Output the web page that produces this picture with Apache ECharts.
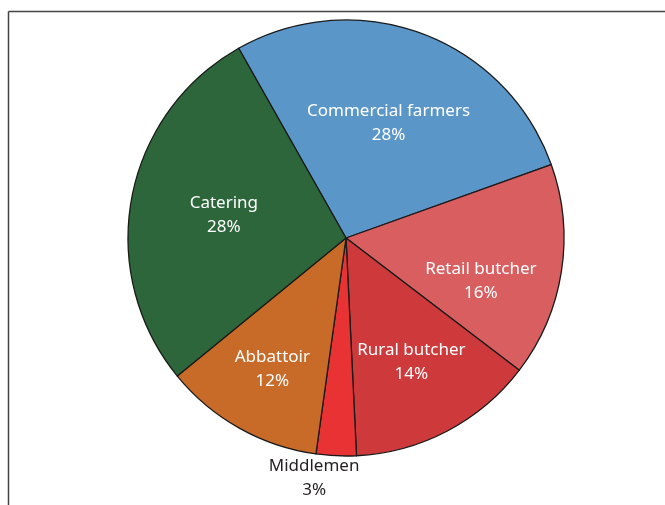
<!DOCTYPE html>
<html>
<head>
<meta charset="utf-8">
<script src="https://cdn.jsdelivr.net/npm/echarts@6/dist/echarts.min.js"></script>
<style>
  html, body { margin: 0; padding: 0; background: #fff; }
  #box1 { width: 665px; height: 505px; }
</style>
</head>
<body>
<div id="box1"></div>
<script>
var myChart = echarts.init(document.getElementById('box1'))

// slice data, clockwise from the top-left boundary
let categories = ['Commercial farmers', 'Retail butcher', 'Rural butcher', 'Middlemen', 'Abbattoir', 'Catering'];
let shares = [28, 16, 14, 3, 12, 28];
let colors = ['#5b96c9', '#d85e60', '#ce3a3c', '#e93233', '#c96b28', '#2d663a'];
// label placement: fraction of radius, and turn (deg, clockwise) from slice middle
let labelPos = [0.56, 0.65, 0.645, 1.11, 0.69, 0.57];
let labelTurn = [0, 9, 0, 5, 0, 0];

let cx = 346, cy = 238, R = 218;

let data = categories.map(function (name, i) {
    return {
        name: name,
        value: shares[i],
        itemStyle: { color: colors[i] },
        label: { color: name === 'Middlemen' ? '#231f20' : '#ffffff' }
    };
});

option = {
    animation: false,
    graphic: [
        { type: 'line', shape: { x1: 8.5, y1: 11.5, x2: 665, y2: 11.5 }, style: { stroke: '#444', lineWidth: 1.5 } },
        { type: 'line', shape: { x1: 8.5, y1: 11.5, x2: 8.5, y2: 505 }, style: { stroke: '#444', lineWidth: 1.5 } }
    ],
    series: [
        {
            type: 'pie',
            center: [cx, cy],
            radius: [0, R],
            startAngle: 119.5,
            clockwise: true,
            avoidLabelOverlap: false,
            itemStyle: { borderColor: '#1a1a1a', borderWidth: 1.3 },
            emphasis: { disabled: true },
            label: {
                show: true,
                position: 'inside',
                fontFamily: 'Noto Sans',
                fontSize: 17,
                lineHeight: 24,
                formatter: function (p) { return p.name + '\n' + p.value + '%'; }
            },
            labelLine: { show: false },
            labelLayout: function (params) {
                var r = params.labelRect;
                var dx = r.x + r.width / 2 - cx;
                var dy = r.y + r.height / 2 - cy;
                var a = Math.atan2(dy, dx) + labelTurn[params.dataIndex] * Math.PI / 180;
                var k = labelPos[params.dataIndex] * R;
                return {
                    x: cx + Math.cos(a) * k,
                    y: cy + Math.sin(a) * k,
                    align: 'center',
                    verticalAlign: 'middle'
                };
            },
            data: data
        }
    ]
};
myChart.setOption(option);
</script>
</body>
</html>
